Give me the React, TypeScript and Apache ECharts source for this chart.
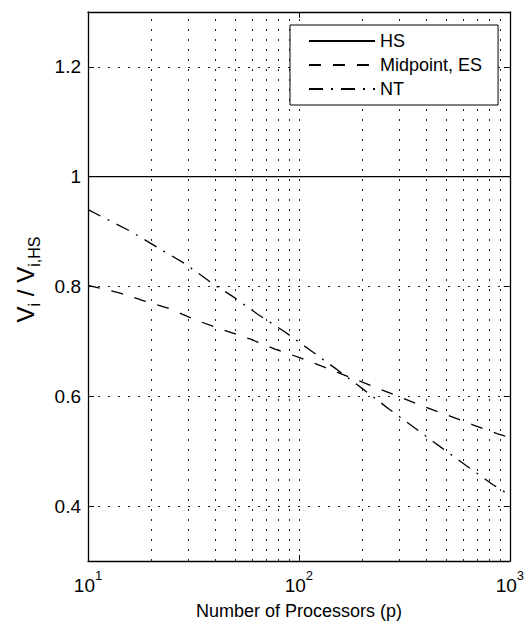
import { useEffect, useRef } from "react";
import * as echarts from "echarts";

const hsP = [10, 1000];
const hsV = [1, 1];
const midP = [10, 14.2, 18.7, 24.6, 32.4, 43, 59, 77, 100, 132, 225, 295, 388, 511, 668, 869, 1000];
const midV = [0.802, 0.788, 0.773, 0.759, 0.739, 0.722, 0.704, 0.686, 0.671, 0.653, 0.618, 0.6, 0.582, 0.565, 0.548, 0.532, 0.525];
const ntP = [10, 16, 21.6, 29, 39, 48.5, 64, 86, 115, 150, 200, 267, 352, 472, 620, 832, 1000];
const ntV = [0.94, 0.9, 0.87, 0.841, 0.805, 0.782, 0.749, 0.717, 0.682, 0.65, 0.614, 0.577, 0.543, 0.507, 0.474, 0.439, 0.42];
const yTicks = [0.4, 0.6, 0.8, 1.0, 1.2];
const xGrid = [20, 30, 40, 50, 60, 70, 80, 90, 100, 200, 300, 400, 500, 600, 700, 800, 900];
const seriesNames = ["HS", "Midpoint, ES", "NT"];

const FONT = "Liberation Sans, Arial, Helvetica, sans-serif";

export default function App() {
  const ref = useRef<HTMLDivElement>(null);
  useEffect(() => {
    if (!ref.current) return;
    const chart = echarts.init(ref.current, undefined, { renderer: "svg" });
    const gridDot = { type: [2, 8] as any, color: "#222", width: 1 };
    const lineW = 1.3;
    chart.setOption({
      animation: false,
      backgroundColor: "#fff",
      color: ["#000", "#000", "#000"],
      textStyle: { fontFamily: FONT, color: "#000" },
      grid: { left: 88, right: 16, top: 12, bottom: 62 },
      legend: {
        orient: "vertical",
        left: 290,
        top: 25,
        data: seriesNames,
        itemWidth: 66,
        itemHeight: 14,
        itemGap: 6,
        padding: [7, 16, 7, 18],
        backgroundColor: "#fff",
        borderColor: "#000",
        borderWidth: 1,
        borderRadius: 0,
        itemStyle: { opacity: 0 },
        textStyle: { fontFamily: FONT, fontSize: 18, color: "#000" },
      },
      xAxis: [
        {
          type: "log",
          logBase: 10,
          min: 10,
          max: 1000,
          position: "bottom",
          name: "Number of Processors (p)",
          nameLocation: "middle",
          nameGap: 41,
          nameTextStyle: { fontFamily: FONT, fontSize: 18, color: "#000" },
          axisLine: { lineStyle: { color: "#000", width: 1.3 } },
          axisTick: { inside: true, length: 6, lineStyle: { color: "#000" } },
          splitLine: { show: false },
          axisLabel: {
            margin: 8,
            formatter: (v: number) => `{b|10}{s|${Math.round(Math.log10(v))}}`,
            rich: {
              b: { fontFamily: FONT, fontSize: 19, lineHeight: 32, color: "#000" },
              s: { fontFamily: FONT, fontSize: 13, lineHeight: 12, verticalAlign: "top", color: "#000" },
            },
          },
        },
        {
          type: "log",
          logBase: 10,
          min: 10,
          max: 1000,
          position: "top",
          axisLine: { lineStyle: { color: "#000", width: 1.3 } },
          axisTick: { inside: true, length: 6, lineStyle: { color: "#000" } },
          axisLabel: { show: false },
          splitLine: { show: false },
        },
      ],
      yAxis: [
        {
          type: "value",
          min: 0.3,
          max: 1.3,
          position: "left",
          name: "{a|V}{s|i}{a| / V}{s|i,HS}",
          nameLocation: "middle",
          nameGap: 46,
          nameTextStyle: {
            padding: [0, 0, 0, 14],
            rich: {
              a: { fontFamily: FONT, fontSize: 24, lineHeight: 34, color: "#000" },
              s: { fontFamily: FONT, fontSize: 16, lineHeight: 14, verticalAlign: "bottom", color: "#000" },
            },
          },
          axisLine: { lineStyle: { color: "#000", width: 1.3 } },
          axisTick: { inside: true, length: 6, customValues: yTicks, lineStyle: { color: "#000" } },
          axisLabel: {
            customValues: yTicks,
            margin: 7,
            fontFamily: FONT,
            fontSize: 19,
            color: "#000",
            formatter: (v: number) => (Math.abs(v - 1) < 1e-9 ? "1" : v.toFixed(1)),
          },
          splitLine: { show: false },
        },
        {
          type: "value",
          min: 0.3,
          max: 1.3,
          position: "right",
          axisLine: { lineStyle: { color: "#000", width: 1.3 } },
          axisTick: { inside: true, length: 6, customValues: yTicks, lineStyle: { color: "#000" } },
          axisLabel: { show: false },
          splitLine: { show: false },
        },
      ],
      series: [
        {
          name: "HS",
          type: "line",
          xAxisIndex: 0,
          yAxisIndex: 0,
          data: hsP.map((p, i) => [p, hsV[i]]),
          symbol: "none",
          itemStyle: { color: "#000" },
          lineStyle: { color: "#000", width: 1.2, type: "solid" },
          z: 3,
          markLine: {
            silent: true,
            symbol: "none",
            label: { show: false },
            lineStyle: gridDot,
            z: 1,
            data: [
              ...xGrid.map((v) => ({ xAxis: v })),
              ...yTicks.map((v) => ({ yAxis: v })),
            ],
          },
        },
        {
          name: "Midpoint, ES",
          type: "line",
          data: midP.map((p, i) => [p, midV[i]]),
          symbol: "none",
          itemStyle: { color: "#000" },
          lineStyle: { color: "#000", width: lineW, type: [12, 12] },
          z: 3,
        },
        {
          name: "NT",
          type: "line",
          data: ntP.map((p, i) => [p, ntV[i]]),
          symbol: "none",
          itemStyle: { color: "#000" },
          lineStyle: { color: "#000", width: lineW, type: [14, 8, 2, 8] },
          z: 3,
        },
      ],
    });
    return () => chart.dispose();
  }, []);
  return (
    <div
      ref={ref}
      style={{ position: "fixed", left: 0, top: 0, width: 527, height: 625, background: "#fff" }}
    />
  );
}
